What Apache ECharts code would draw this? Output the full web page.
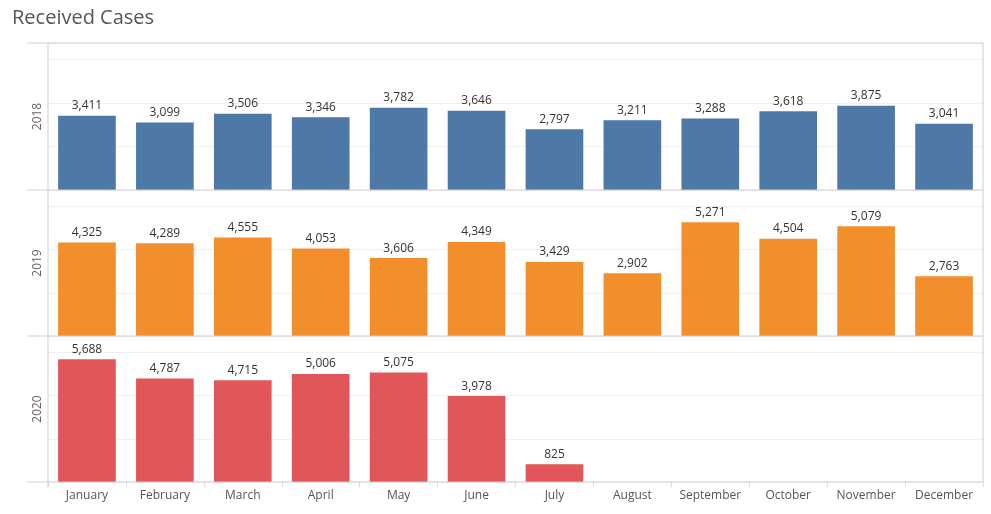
<!DOCTYPE html>
<html><head><meta charset="utf-8">
<script src="https://cdn.jsdelivr.net/npm/echarts@6/dist/echarts.min.js"></script>
<style>html,body{margin:0;padding:0;background:#fff}#c{width:991px;height:514px}</style>
</head><body><div id="c"></div>
<script>
const months = ['January','February','March','April','May','June','July','August','September','October','November','December'];
const years = ['2018','2019','2020'];
const v2018 = [3411,3099,3506,3346,3782,3646,2797,3211,3288,3618,3875,3041];
const v2019 = [4325,4289,4555,4053,3606,4349,3429,2902,5271,4504,5079,2763];
const v2020 = [5688,4787,4715,5006,5075,3978,825,null,null,null,null,null];
const yearValues = [v2018, v2019, v2020];
const colors = ['#4e79a7','#f28e2b','#e15759'];

const font = '"Open Sans", "Noto Sans", sans-serif';
const tops = [43, 190, 336];
const heights = [147, 146, 146];
const L = 48, R = 983;

const grids = [], xAxes = [], yAxes = [], series = [];
years.forEach((y, i) => {
  grids.push({left: L, right: 991 - R, top: tops[i], height: heights[i]});
  xAxes.push({
    type: 'category', gridIndex: i, data: months,
    axisLine: {show: false},
    axisTick: {show: i === 2, interval: 0, length: 5, lineStyle: {color: '#ddd'}},
    axisLabel: {show: i === 2, interval: 0, color: '#555', fontSize: 12, fontFamily: font, margin: 8}
  });
  yAxes.push({
    type: 'value', gridIndex: i, min: 0, max: 6760, interval: 2000,
    axisLabel: {show: false}, axisLine: {show: false}, axisTick: {show: false},
    splitLine: {lineStyle: {color: '#f0f0f0'}}
  });
  series.push({
    type: 'bar', xAxisIndex: i, yAxisIndex: i, data: yearValues[i],
    barCategoryGap: '26%',
    itemStyle: {color: colors[i]},
    label: {show: true, position: 'top', distance: 4, color: '#333', fontSize: 12, fontFamily: font,
      formatter: p => p.value == null ? '' : p.value.toLocaleString('en-US')}
  });
});

const gc = '#cfcfcf';
const graphic = [
  {type: 'text', left: 12, top: 8, style: {text: 'Received Cases', fontSize: 20, fill: '#555', fontFamily: font}},
  {type: 'line', shape: {x1: L, y1: 43, x2: L, y2: 487}, style: {stroke: gc, lineWidth: 1}, z: 10},
  {type: 'line', shape: {x1: R, y1: 43, x2: R, y2: 482}, style: {stroke: gc, lineWidth: 1}, z: 10},
  {type: 'line', shape: {x1: 27, y1: 43, x2: R, y2: 43}, style: {stroke: gc, lineWidth: 1}, z: 10},
  {type: 'line', shape: {x1: 27, y1: 190, x2: R, y2: 190}, style: {stroke: gc, lineWidth: 1}, z: 10},
  {type: 'line', shape: {x1: 27, y1: 336, x2: R, y2: 336}, style: {stroke: gc, lineWidth: 1}, z: 10},
  {type: 'line', shape: {x1: 27, y1: 482, x2: R, y2: 482}, style: {stroke: gc, lineWidth: 1}, z: 10}
];
years.forEach((y, i) => {
  graphic.push({type: 'text', x: 38, y: tops[i] + heights[i] / 2, rotation: Math.PI / 2,
    style: {text: y, fontSize: 12, fill: '#6b5e5e', fontFamily: font, align: 'center', verticalAlign: 'middle'}});
});

const chart = echarts.init(document.getElementById('c'));
chart.setOption({animation: false, grid: grids, xAxis: xAxes, yAxis: yAxes, series, graphic});
</script></body></html>
